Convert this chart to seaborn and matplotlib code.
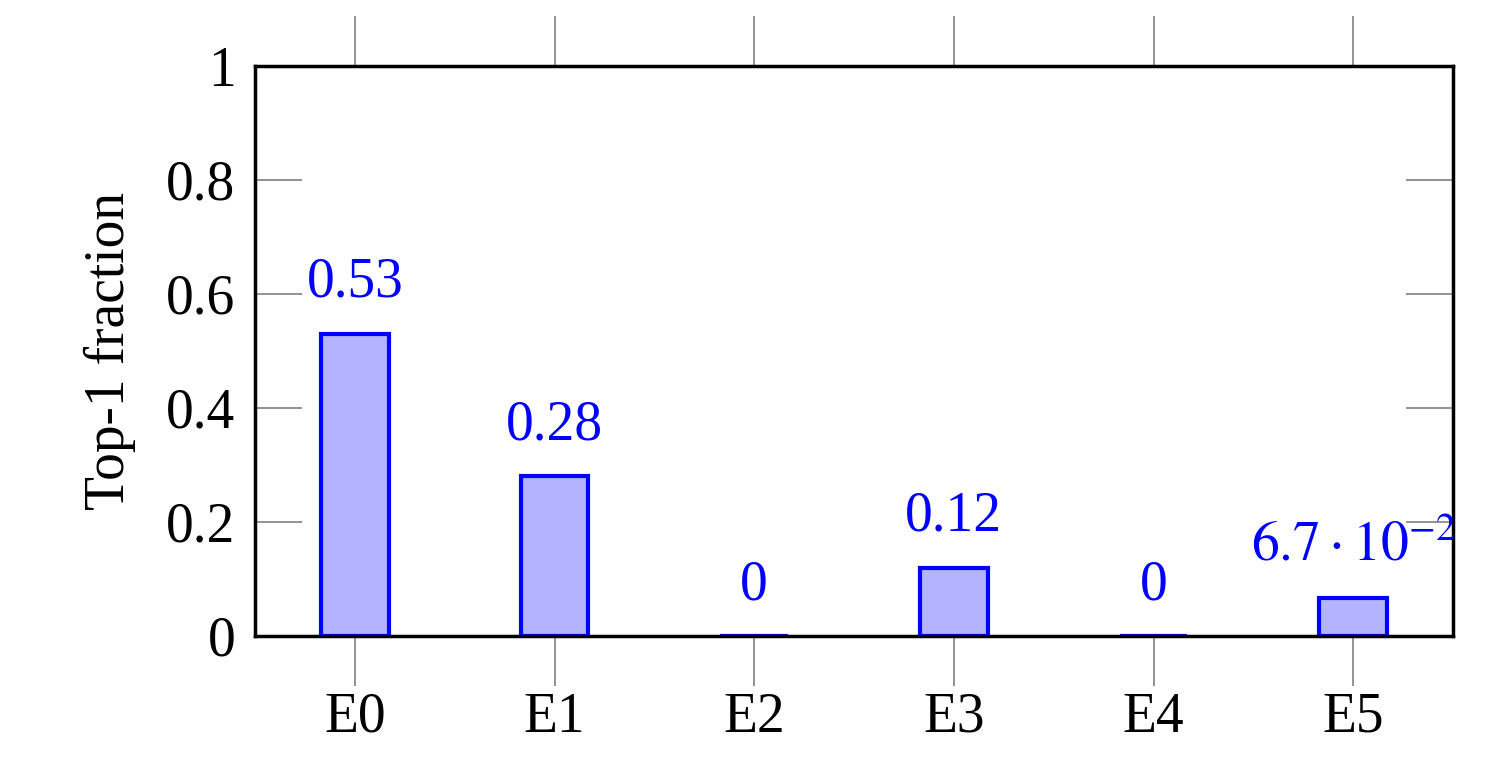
import matplotlib
matplotlib.use("Agg")
import matplotlib.pyplot as plt
import seaborn as sns
import pandas as pd

categories = ["E0", "E1", "E2", "E3", "E4", "E5"]
values = [0.53, 0.28, 0.0, 0.12, 0.0, 0.067]
labels = ["0.53", "0.28", "0", "0.12", "0", r"$6.7\cdot10^{-2}$"]

sns.set_theme(style="white")
plt.rcParams['font.family'] = ['Liberation Serif', 'DejaVu Serif']
plt.rcParams['mathtext.fontset'] = 'stix'
plt.rcParams['text.color'] = 'black'
plt.rcParams['axes.labelcolor'] = 'black'
plt.rcParams['xtick.labelcolor'] = 'black'
plt.rcParams['ytick.labelcolor'] = 'black'

df = pd.DataFrame({"cat": categories, "val": values})
fig = plt.figure(figsize=(14.89, 7.71), dpi=100)
ax = fig.add_axes([255/1489, 1-636/771, 1198/1489, 570/771])
sns.barplot(data=df, x="cat", y="val", ax=ax, width=0.34, color="#b3b3ff",
            edgecolor="blue", linewidth=3, saturation=1)
ax.set_xlim(-0.5, 5.5)
ax.set_ylim(0, 1)
ax.set_yticks([0, 0.2, 0.4, 0.6, 0.8, 1])
ax.set_yticklabels(["0", "0.2", "0.4", "0.6", "0.8", "1"])
ax.set_xlabel("")
ax.set_ylabel("Top-1 fraction", fontsize=40, labelpad=22)
for s in ax.spines.values():
    s.set_linewidth(2.5)
    s.set_color("black")
ax.tick_params(axis="x", which="both", direction="out", length=36, width=1.2,
               color="gray", top=True, bottom=True, labelsize=40, pad=4)
ax.tick_params(axis="y", which="both", direction="in", length=34, width=1.2,
               color="gray", left=True, right=True, labelsize=40, pad=14)
for i, (v, t) in enumerate(zip(values, labels)):
    ax.annotate(t, (i, v), xytext=(0, 18), textcoords="offset points",
                ha="center", va="bottom", color="blue", fontsize=40)
fig.savefig("out.png", dpi=100)
